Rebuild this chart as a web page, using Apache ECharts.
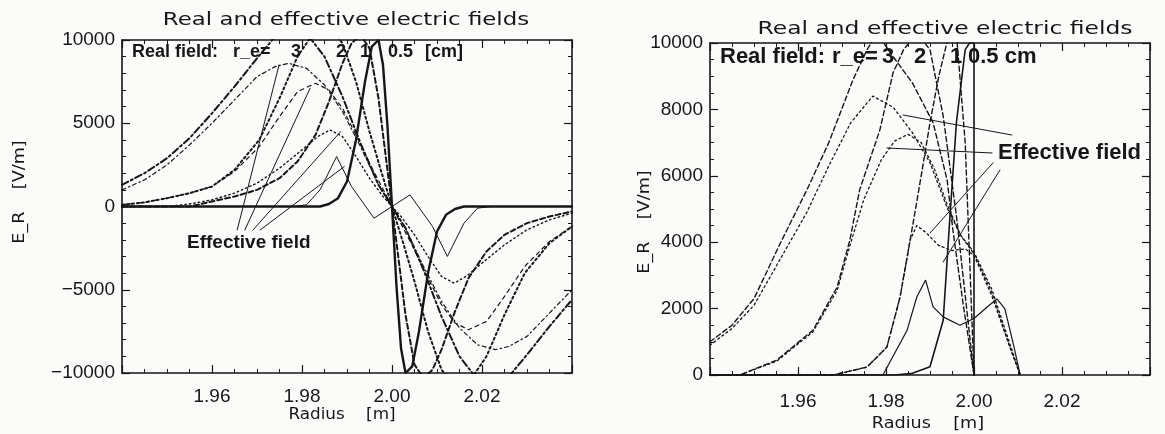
<!DOCTYPE html>
<html>
<head>
<meta charset="utf-8">
<script src="https://cdn.jsdelivr.net/npm/echarts@6/dist/echarts.min.js"></script>
<style>
  html, body { margin: 0; padding: 0; background: #fbfbfa; }
  #chart { width: 1165px; height: 434px; }
</style>
</head>
<body>
<div id="chart"></div>
<script>
// ---------- Left panel: antisymmetric electrode field, radius in m, E_R in V/m ----------
// Real field, r_e = 0.5 cm
const leftRealR05 = [1.940, 1.984, 1.986, 1.988, 1.990, 1.992, 1.994, 1.9955, 1.997, 1.998, 1.999, 2.000, 2.001, 2.002, 2.003, 2.0045, 2.006, 2.008, 2.010, 2.012, 2.014, 2.016, 2.040];
const leftRealE05 = [0, 0, 150, 500, 1500, 4000, 7500, 9600, 10000, 8500, 4800, 0, -4800, -8500, -10000, -9600, -7500, -4000, -1500, -500, -150, 0, 0];
// Real field, r_e = 1 cm
const leftRealR1 = [1.940, 1.955, 1.960, 1.965, 1.970, 1.975, 1.979, 1.983, 1.986, 1.989, 1.991, 1.993, 1.995, 1.997, 2.000, 2.003, 2.005, 2.007, 2.009, 2.011, 2.014, 2.017, 2.021, 2.025, 2.030, 2.035, 2.040];
const leftRealE1 = [0, 0, 300, 600, 1000, 1700, 2700, 4300, 6300, 8600, 9800, 10300, 9500, 6500, 0, -6500, -9500, -10300, -9800, -8600, -6300, -4300, -2700, -1700, -1000, -600, -300];
// Real / effective field, r_e = 2 cm (shared radius samples)
const leftR2 = [1.940, 1.945, 1.950, 1.955, 1.960, 1.965, 1.9705, 1.975, 1.979, 1.983, 1.986, 1.989, 1.992, 1.995, 1.9975, 2.000, 2.0025, 2.005, 2.008, 2.011, 2.014, 2.017, 2.021, 2.025, 2.0295, 2.035, 2.040];
const leftRealE2 = [100, 250, 500, 800, 1200, 2200, 4000, 6500, 9000, 10600, 10800, 9800, 7500, 4500, 2200, 0, -2200, -4500, -7500, -9800, -10800, -10600, -9000, -6500, -4000, -2200, -1200];
const leftEffE2 = [100, 250, 500, 800, 1200, 2100, 3600, 5400, 6900, 7400, 7000, 5900, 4300, 2600, 1300, 0, -1300, -2600, -4300, -5900, -7000, -7400, -6900, -5400, -3600, -2100, -1200];
// Real / effective field, r_e = 3 cm
const leftR3 = [1.940, 1.945, 1.950, 1.955, 1.960, 1.965, 1.970, 1.974, 1.977, 1.981, 1.985, 1.989, 1.993, 1.997, 2.000, 2.003, 2.007, 2.011, 2.015, 2.019, 2.023, 2.026, 2.030, 2.035, 2.040];
const leftRealE3 = [1300, 2000, 2900, 4100, 5600, 7200, 8900, 10200, 10800, 10400, 9000, 6600, 3800, 1300, 0, -1300, -3800, -6600, -9000, -10400, -10800, -10200, -8900, -7200, -5600];
const leftEffE3 = [1000, 1600, 2500, 3700, 5000, 6400, 7800, 8400, 8600, 8300, 7300, 5700, 3600, 1300, 0, -1300, -3600, -5700, -7300, -8300, -8600, -8400, -7800, -6400, -5000];
// Effective field, r_e = 1 cm
const leftEffR1 = [1.940, 1.950, 1.955, 1.960, 1.965, 1.970, 1.975, 1.980, 1.9835, 1.9862, 1.989, 1.992, 1.995, 1.998, 2.000, 2.002, 2.005, 2.008, 2.011, 2.0138, 2.0165, 2.020, 2.025, 2.030, 2.035, 2.040];
const leftEffE1 = [0, 0, 150, 400, 800, 1400, 2300, 3400, 4200, 4600, 4200, 3000, 1700, 600, 0, -600, -1700, -3000, -4200, -4600, -4200, -3400, -2300, -1400, -800, -400];
// Effective field, r_e = 0.5 cm
const leftEffR05 = [1.940, 1.978, 1.981, 1.984, 1.9877, 1.991, 1.996, 2.000, 2.004, 2.009, 2.0123, 2.016, 2.019, 2.022, 2.040];
const leftEffE05 = [0, 0, 100, 1000, 3000, 1200, -700, 0, 700, -1200, -3000, -1000, -100, 0, 0];

// ---------- Right panel: field in front of a wall at r = 2.00 m ----------
const rightRealR3 = [1.940, 1.945, 1.950, 1.956, 1.962, 1.967, 1.9725, 1.9757, 1.978, 1.981, 1.986, 1.9907, 1.9939, 1.9952, 1.9975, 2.000];
const rightRealE3 = [1000, 1500, 2300, 3975, 5570, 7000, 8890, 9800, 10300, 9700, 8800, 7600, 5870, 4370, 2170, 0];
const rightEffR3 = [1.940, 1.945, 1.950, 1.956, 1.962, 1.967, 1.972, 1.977, 1.9816, 1.986, 1.990, 1.994, 1.997, 2.000, 2.004, 2.008, 2.0105];
const rightEffE3 = [900, 1400, 2100, 3500, 4900, 6300, 7600, 8400, 8070, 7300, 6390, 5000, 4200, 3700, 2600, 1000, 0];
const rightRealR2 = [1.940, 1.9468, 1.9552, 1.9634, 1.9689, 1.9718, 1.974, 1.9786, 1.9816, 1.984, 1.987, 1.990, 1.993, 1.996, 2.000];
const rightRealE2 = [0, 0, 450, 1350, 2650, 4070, 5570, 7380, 9100, 9800, 10300, 9800, 7800, 4800, 0];
const rightEffR2 = [1.940, 1.9468, 1.9552, 1.9634, 1.9689, 1.9718, 1.975, 1.979, 1.982, 1.985, 1.988, 1.991, 1.994, 1.997, 2.000, 2.004, 2.008, 2.0105];
const rightEffE2 = [0, 0, 420, 1300, 2550, 3900, 5300, 6500, 7050, 7250, 7000, 6200, 5100, 4200, 3650, 2500, 900, 0];
const rightRealR1 = [1.940, 1.968, 1.9757, 1.9802, 1.9832, 1.9855, 1.988, 1.990, 1.992, 1.994, 1.996, 1.998, 2.000];
const rightRealE1 = [0, 0, 240, 840, 2350, 4070, 6000, 7600, 9000, 10100, 10300, 7000, 0];
const rightEffR1 = [1.940, 1.968, 1.9757, 1.9802, 1.9832, 1.9855, 1.987, 1.989, 1.992, 1.995, 1.998, 2.000, 2.004, 2.008, 2.0105];
const rightEffE1 = [0, 0, 240, 840, 2350, 4070, 4500, 4300, 3900, 3750, 3800, 3600, 2400, 900, 0];
const rightRealR05 = [1.940, 1.982, 1.986, 1.990, 1.993, 1.9945, 1.996, 1.998, 1.999, 2.000, 2.000];
const rightRealE05 = [0, 0, 50, 250, 1650, 4700, 7600, 9800, 10000, 10000, 0];
const rightEffR05 = [1.940, 1.9793, 1.9848, 1.987, 1.989, 1.9907, 1.993, 1.9968, 2.000, 2.003, 2.0052, 2.007, 2.009, 2.0105];
const rightEffE05 = [0, 0, 1350, 2350, 2860, 2050, 1750, 1500, 1700, 2050, 2290, 2000, 900, 0];

// Leader lines from the "Effective field" labels to the curves: [r0, E0, r1, E1]
const leftLeaders = [
  [1.9656, -1410, 1.9749, 8500],
  [1.9673, -1410, 1.9818, 7100],
  [1.9691, -1410, 1.9886, 4500],
  [1.9707, -1410, 1.9894, 2400]
];
const rightLeaders = [
  [1.9839, 7831, 2.0086, 7229],
  [1.9802, 6837, 2.0041, 6687],
  [1.9900, 4277, 2.0043, 6386],
  [1.9930, 3404, 2.0059, 6175]
];

// Axis ranges and tick steps
const radiusRange = [1.94, 2.04];
const radiusStep = 0.02;
const leftFieldRange = [-10000, 10000];
const leftFieldStep = 5000;
const rightFieldRange = [0, 10000];
const rightFieldStep = 2000;

const INK = '#161616';
const TICK_FONT = "'Liberation Sans', Arial, sans-serif";
const VEC_FONT = "'DejaVu Sans', sans-serif";

function zip(xs, ys) { return xs.map((x, i) => [x, ys[i]]); }

function curve(xs, ys, grid, width, dash) {
  return {
    type: 'line', xAxisIndex: grid * 2, yAxisIndex: grid * 2,
    data: zip(xs, ys), showSymbol: false, symbol: 'none', clip: true,
    silent: true, animation: false, z: 2,
    lineStyle: { color: INK, width: width, type: dash || 'solid', cap: 'round' }
  };
}

function frameAxes(grid, range, step, minorSplit, isX, margin) {
  const axes = [];
  [0, 1].forEach(k => {
    const main = k === 0;
    axes.push({
      type: 'value', gridIndex: grid,
      position: isX ? (main ? 'bottom' : 'top') : (main ? 'left' : 'right'),
      min: range[0], max: range[1], interval: step,
      axisLine: { show: true, onZero: false, lineStyle: { color: INK, width: 1.6 } },
      axisTick: { show: true, inside: true, length: 8, lineStyle: { color: INK, width: 1.2 } },
      minorTick: { show: true, splitNumber: minorSplit, length: 4, lineStyle: { color: INK, width: 1 } },
      splitLine: { show: false },
      axisLabel: main ? {
        show: true, color: INK, fontFamily: TICK_FONT, fontSize: 19,
        margin: margin, showMinLabel: !isX, showMaxLabel: !isX,
        formatter: v => isX ? v.toFixed(2) : String(Math.round(v)).replace('-', '\u2212')
      } : { show: false }
    });
  });
  return axes;
}

const xAxes = [].concat(
  frameAxes(0, radiusRange, radiusStep, 4, true, 14),
  frameAxes(1, radiusRange, radiusStep, 4, true, 17)
);
const yAxes = [].concat(
  frameAxes(0, leftFieldRange, leftFieldStep, 5, false, 7),
  frameAxes(1, rightFieldRange, rightFieldStep, 4, false, 7)
);

const series = [
  curve(leftR3, leftRealE3, 0, 2, [7, 3, 2, 3]),
  curve(leftR3, leftEffE3, 0, 1.2, [4, 3, 1.5, 3]),
  curve(leftR2, leftRealE2, 0, 2, [2, 3]),
  curve(leftR2, leftEffE2, 0, 1.2, [4, 4]),
  curve(leftRealR1, leftRealE1, 0, 2, [5, 3]),
  curve(leftEffR1, leftEffE1, 0, 1.4, [1.5, 3]),
  curve(leftEffR05, leftEffE05, 0, 1),
  curve(leftRealR05, leftRealE05, 0, 2.4),
  curve(rightRealR3, rightRealE3, 1, 1.4, [5, 3]),
  curve(rightEffR3, rightEffE3, 1, 1.3, [2, 3]),
  curve(rightRealR2, rightRealE2, 1, 1.4, [5, 3]),
  curve(rightEffR2, rightEffE2, 1, 1.3, [2, 3]),
  curve(rightRealR1, rightRealE1, 1, 1.4, [5, 3]),
  curve(rightEffR1, rightEffE1, 1, 1.3, [2, 3]),
  curve(rightEffR05, rightEffE05, 1, 1.2),
  curve(rightRealR05, rightRealE05, 1, 1.6)
];
leftLeaders.forEach(l => series.push(curve([l[0], l[2]], [l[1], l[3]], 0, 1)));
rightLeaders.forEach(l => series.push(curve([l[0], l[2]], [l[1], l[3]], 1, 1)));

function txt(x, y, text, size, opts, scaleX, rotation) {
  return {
    type: 'text', x: x, y: y, z: 10, scaleX: scaleX || 1, rotation: rotation || 0,
    style: Object.assign({
      text: text, fill: INK, fontSize: size, fontFamily: TICK_FONT,
      textVerticalAlign: 'middle', textAlign: 'left'
    }, opts || {})
  };
}

const VEC = { fontFamily: VEC_FONT, textAlign: 'center' };
const BOLD = { fontWeight: 'bold' };

const graphics = [
  // panel titles in a wide stroke face
  txt(346, 20, 'Real and effective electric fields', 18, VEC, 1.27),
  txt(945, 29, 'Real and effective electric fields', 18, VEC, 1.3),
  // axis titles
  txt(342, 415, 'Radius    [m]', 16, VEC, 1.05),
  txt(928, 424, 'Radius    [m]', 16, VEC, 1.1),
  txt(20, 192, 'E_R    [V/m]', 16, VEC, 1.1, Math.PI / 2),
  txt(645, 222, 'E_R    [V/m]', 16, VEC, 1.1, Math.PI / 2),
  // left header
  txt(132, 52, 'Real field:', 18, BOLD),
  txt(233, 52, 'r_e=', 18, BOLD),
  txt(291, 52, '3', 18, BOLD),
  txt(336, 52, '2', 18, BOLD),
  txt(360, 52, '1', 18, BOLD),
  txt(388, 52, '0.5', 18, BOLD),
  txt(425, 52, '[cm]', 18, BOLD),
  txt(187, 243, 'Effective field', 19, BOLD),
  // right header
  txt(720, 57, 'Real field:', 22, BOLD),
  txt(832, 57, 'r_e=', 22, BOLD),
  txt(882, 57, '3', 22, BOLD),
  txt(914, 57, '2', 22, BOLD),
  txt(950, 57, '1', 22, BOLD),
  txt(968, 57, '0.5 cm', 22, BOLD),
  txt(998, 153, 'Effective field', 22, BOLD)
];

const chart = echarts.init(document.getElementById('chart'), null, { renderer: 'canvas' });
chart.setOption({
  animation: false,
  backgroundColor: '#fbfbfa',
  grid: [
    { left: 122, top: 40, width: 450, height: 333, containLabel: false },
    { left: 710, top: 43, width: 440, height: 332, containLabel: false }
  ],
  xAxis: xAxes,
  yAxis: yAxes,
  series: series,
  graphic: graphics
});
</script>
</body>
</html>
